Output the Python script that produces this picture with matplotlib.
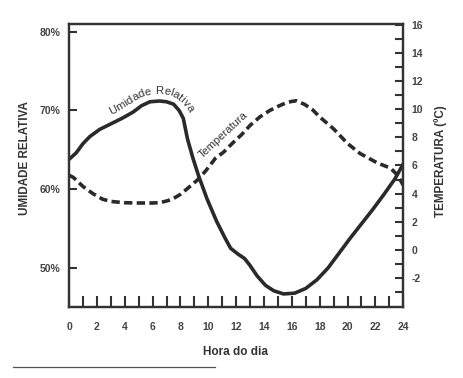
import numpy as np
import matplotlib
matplotlib.use('Agg')
import matplotlib.pyplot as plt
from matplotlib.lines import Line2D
from matplotlib.font_manager import FontProperties, findfont, get_font
import matplotlib.transforms as mtransforms

# data
hora_umid = [0, 0.5, 1.0, 1.5, 2.2, 3.0, 3.8, 4.6, 5.2, 5.8, 6.5, 7.0, 7.5, 7.9, 8.2, 8.5,
             8.9, 9.3, 9.9, 10.6, 11.2, 11.6, 12.1, 12.6, 13.0, 13.5, 14.1, 14.7, 15.4,
             16.2, 17.0, 17.8, 18.6, 19.4, 20.2, 21.0, 21.8, 22.6, 23.4, 24.0]
umidade = [63.8, 64.6, 65.8, 66.7, 67.6, 68.3, 69.0, 69.8, 70.6, 71.1, 71.2, 71.1, 70.8,
           70.0, 69.0, 66.4, 63.9, 61.7, 58.8, 55.9, 53.8, 52.5, 51.8, 51.2, 50.3, 49.0,
           47.8, 47.1, 46.7, 46.8, 47.4, 48.5, 50.0, 51.9, 53.8, 55.6, 57.4, 59.3, 61.3, 63.2]

hora_temp = [0, 0.3, 1.0, 1.7, 2.4, 3.0, 4.0, 5.0, 6.0, 6.6, 7.1, 7.5, 8.0, 8.5, 9.2, 9.8,
             10.5, 11.1, 11.7, 12.4, 13.0, 13.7, 14.4, 15.0, 15.7, 16.3, 16.9, 17.5, 18.0,
             19.0, 20.0, 20.9, 22.1, 23.1, 23.6, 24.0]
temperatura = [5.3, 5.15, 4.5, 4.0, 3.6, 3.44, 3.35, 3.33, 3.33, 3.37, 3.5, 3.65, 3.95,
               4.36, 4.95, 5.6, 6.5, 6.95, 7.55, 8.2, 8.85, 9.45, 9.9, 10.2, 10.5, 10.6,
               10.35, 9.95, 9.45, 8.6, 7.56, 6.85, 6.2, 5.8, 5.3, 4.6]

umid_ticks = [50, 60, 70, 80]
umid_labels = ['50%', '60%', '70%', '80%']
temp_major = list(range(-2, 17, 2))
temp_minor = list(range(-3, 17, 2))
hora_major = list(range(0, 25, 2))
hora_minor = list(range(1, 25, 2))

fam = ['Liberation Sans', 'DejaVu Sans']
ink = '#2a2a2a'

fig = plt.figure(figsize=(4.64, 3.78), dpi=100)
ax1 = fig.add_axes([0.149, 0.188, 0.720, 0.749])
ax2 = ax1.twinx()

ax1.plot(hora_umid, umidade, color=ink, lw=2.6, solid_capstyle='round', solid_joinstyle='round')
ax2.plot(hora_temp, temperatura, color=ink, lw=2.6, dashes=(2.3, 1.2))

ax1.set_xlim(0, 24)
ax1.set_ylim(45.05, 81.0)
ax2.set_ylim(-4.06, 16.07)

for ax in (ax1, ax2):
    for sp in ['left', 'right', 'top', 'bottom']:
        ax.spines[sp].set_linewidth(1.6)
        ax.spines[sp].set_color('#333333')

ax1.set_xticks(hora_major)
ax1.set_xticks(hora_minor, minor=True)
ax1.set_xticklabels([str(h) for h in hora_major], fontsize=7.5, fontweight='bold',
                    family=fam, color='#444444')
ax1.tick_params(axis='x', which='both', direction='in', length=8, width=1.5,
                color='#333333', pad=11)

ax1.set_yticks(umid_ticks)
ax1.set_yticklabels(umid_labels, fontsize=7.5, fontweight='bold', family=fam, color='#444444')
ax1.tick_params(axis='y', which='both', direction='in', length=6, width=1.5,
                color='#333333', pad=6)

ax2.set_yticks(temp_major)
ax2.set_yticks(temp_minor, minor=True)
ax2.set_yticklabels([str(t) for t in temp_major], fontsize=7.5, fontweight='bold',
                    family=fam, color='#444444')
ax2.tick_params(axis='y', which='both', direction='in', length=6, width=1.5,
                color='#333333', pad=6)

fig.text(0.054, 0.582, 'UMIDADE RELATIVA', rotation=90, ha='center', va='center',
         fontsize=8.4, fontweight='bold', family=fam, color='#333333')
fig.text(0.949, 0.574, 'TEMPERATURA (ºC)', rotation=90, ha='center', va='center',
         fontsize=8.4, fontweight='bold', family=fam, color='#333333')
fig.text(0.507, 0.068, 'Hora do dia', ha='center', va='center',
         fontsize=8.5, fontweight='bold', family=fam, color='#333333')

ax2.text(11.1, 8.2, 'Temperatura', rotation=43, rotation_mode='anchor', ha='center',
         va='center', fontsize=8, family=fam, color='#333333')

# bottom rule line
fig.add_artist(Line2D([13 / 464, 215 / 464], [1 - 367 / 378, 1 - 367 / 378],
                      transform=fig.transFigure, color='#555555', lw=0.9))

# curved label above the humidity curve (baseline = smoothed copy of the curve, in pixels)
fig.canvas.draw()
pts = ax1.transData.transform(np.column_stack([hora_umid, umidade]))
seg = np.hypot(np.diff(pts[:, 0]), np.diff(pts[:, 1]))
s0 = np.concatenate([[0], np.cumsum(seg)])
ss = np.arange(0, s0[-1], 1.0)
px = np.interp(ss, s0, pts[:, 0])
py = np.interp(ss, s0, pts[:, 1])
w = 25
kern = np.ones(w) / w
px = np.convolve(np.pad(px, w // 2, mode='edge'), kern, mode='valid')
py = np.convolve(np.pad(py, w // 2, mode='edge'), kern, mode='valid')
dx, dy = np.gradient(px), np.gradient(py)
nl = np.hypot(dx, dy)
ox = px - 8 * dy / nl
oy = py + 8 * dx / nl
s = np.concatenate([[0], np.cumsum(np.hypot(np.diff(ox), np.diff(oy)))])
tang = np.degrees(np.arctan2(dy, dx))

label = 'Umidade Relativa'
fp = FontProperties(family=fam, size=8.2)
ft = get_font(findfont(fp))
ft.set_size(8.2, fig.dpi)
adv = []
for ch in label:
    g = ft.load_char(ord(ch))
    adv.append(g.linearHoriAdvance / 65536)
total = sum(adv)
x_mid = ax1.transData.transform((5.9, 70))[0]
i_mid = np.argmin(np.abs(ox - x_mid) + 1000 * (oy < 200))
pos = s[i_mid] - total / 2
for ch, a in zip(label, adv):
    c = pos + a / 2
    pos += a
    if ch == ' ':
        continue
    x = np.interp(c, s, ox)
    y = np.interp(c, s, oy)
    ang = np.interp(c, s, tang)
    fig.text(x, y, ch, transform=mtransforms.IdentityTransform(), fontproperties=fp,
             rotation=ang, rotation_mode='anchor', ha='center', va='baseline', color='#333333')

plt.savefig('out.png', dpi=100)
